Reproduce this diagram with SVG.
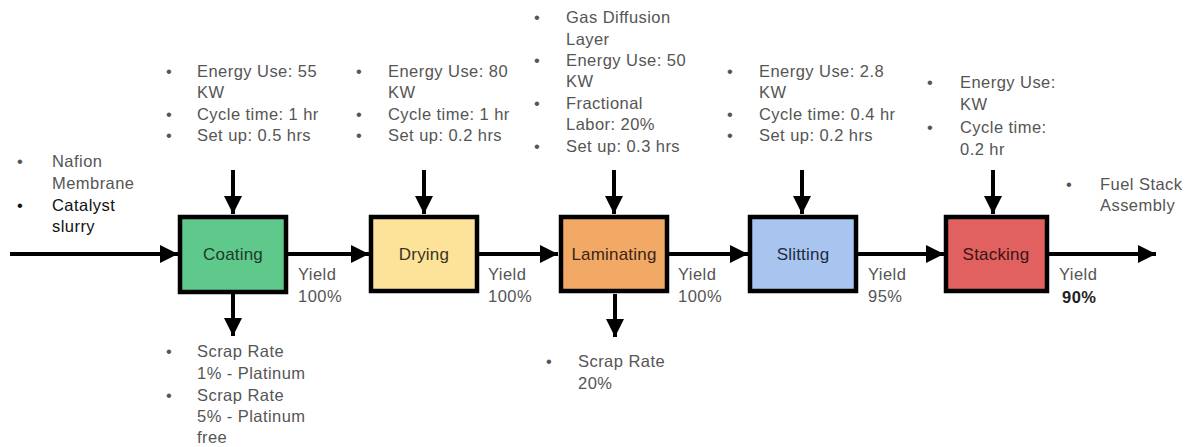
<svg xmlns="http://www.w3.org/2000/svg" width="1189" height="447" viewBox="0 0 1189 447">
<defs>
<marker id="ah" viewBox="0 0 10 10" refX="10" refY="5" markerWidth="4.6" markerHeight="4.6" markerUnits="strokeWidth" orient="auto">
<path d="M0,0 L10,5 L0,10 z" fill="#000"/>
</marker>
</defs>
<style>
text{font-family:"Liberation Sans",Arial,sans-serif;font-size:16.5px;letter-spacing:0.45px;fill:#555}
.dk{fill:#111}
.lbl{font-size:17px;letter-spacing:0.2px;fill:#333;text-anchor:middle}
.box{stroke:#000;stroke-width:4.5}
.ar{stroke:#000;stroke-width:4;fill:none;marker-end:url(#ah)}
</style>
<rect width="1189" height="447" fill="#fff"/>
<g id="connectors">
<line class="ar" x1="10" y1="254" x2="178" y2="254"/>
<line class="ar" x1="288" y1="254" x2="369" y2="254"/>
<line class="ar" x1="479" y1="254" x2="558" y2="254"/>
<line class="ar" x1="669" y1="254" x2="748" y2="254"/>
<line class="ar" x1="857" y1="254" x2="944" y2="254"/>
<line class="ar" x1="1049" y1="254" x2="1156" y2="254"/>
<line class="ar" x1="233" y1="170" x2="233" y2="214"/>
<line class="ar" x1="424" y1="170" x2="424" y2="214"/>
<line class="ar" x1="614" y1="170" x2="614" y2="214"/>
<line class="ar" x1="802" y1="170" x2="802" y2="214"/>
<line class="ar" x1="993" y1="170" x2="993" y2="214"/>
<line class="ar" x1="233" y1="294" x2="233" y2="336"/>
<line class="ar" x1="615" y1="294" x2="615" y2="337"/>
</g>
<g id="coating"><rect class="box" x="180" y="217" width="106" height="75" fill="#5fc98b"/><text class="lbl" x="233" y="260" style="fill:#1f3a2a">Coating</text></g>
<g id="drying"><rect class="box" x="371" y="217" width="106" height="74" fill="#fde39a"/><text class="lbl" x="424" y="260" style="fill:#3b3320">Drying</text></g>
<g id="laminating"><rect class="box" x="561" y="217" width="106" height="74" fill="#f2a965"/><text class="lbl" x="614" y="260" style="fill:#3a2516">Laminating</text></g>
<g id="slitting"><rect class="box" x="750" y="217" width="106" height="74" fill="#a8c5f0"/><text class="lbl" x="803" y="260" style="fill:#1f2a40">Slitting</text></g>
<g id="stacking"><rect class="box" x="946" y="217" width="101" height="74" fill="#e0615f"/><text class="lbl" x="996" y="260" style="fill:#3a1414">Stacking</text></g>
<g id="input-notes">
<text x="17" y="167">•</text><text x="52" y="167">Nafion</text>
<text x="52" y="189">Membrane</text>
<text x="17" y="211" class="dk">•</text><text x="52" y="211" class="dk">Catalyst</text>
<text x="52" y="232" class="dk">slurry</text>
</g>
<g id="coating-notes">
<text x="166" y="77">•</text><text x="197" y="77">Energy Use: 55</text>
<text x="197" y="98">KW</text>
<text x="166" y="120">•</text><text x="197" y="120">Cycle time: 1 hr</text>
<text x="166" y="141">•</text><text x="197" y="141">Set up: 0.5 hrs</text>
</g>
<g id="drying-notes">
<text x="356" y="77">•</text><text x="388" y="77">Energy Use: 80</text>
<text x="388" y="98">KW</text>
<text x="356" y="120">•</text><text x="388" y="120">Cycle time: 1 hr</text>
<text x="356" y="141">•</text><text x="388" y="141">Set up: 0.2 hrs</text>
</g>
<g id="laminating-notes">
<text x="534" y="23">•</text><text x="566" y="23">Gas Diffusion</text>
<text x="566" y="45">Layer</text>
<text x="534" y="66">•</text><text x="566" y="66">Energy Use: 50</text>
<text x="566" y="87">KW</text>
<text x="534" y="109">•</text><text x="566" y="109">Fractional</text>
<text x="566" y="130">Labor: 20%</text>
<text x="534" y="152">•</text><text x="566" y="152">Set up: 0.3 hrs</text>
</g>
<g id="slitting-notes">
<text x="727" y="77">•</text><text x="759" y="77">Energy Use: 2.8</text>
<text x="759" y="98">KW</text>
<text x="727" y="120">•</text><text x="759" y="120">Cycle time: 0.4 hr</text>
<text x="727" y="141">•</text><text x="759" y="141">Set up: 0.2 hrs</text>
</g>
<g id="stacking-notes">
<text x="927" y="88">•</text><text x="960" y="88">Energy Use:</text>
<text x="960" y="110">KW</text>
<text x="927" y="133">•</text><text x="960" y="133">Cycle time:</text>
<text x="960" y="155">0.2 hr</text>
</g>
<g id="output-notes">
<text x="1066" y="190">•</text><text x="1100" y="190">Fuel Stack</text>
<text x="1100" y="211">Assembly</text>
</g>
<g id="yields">
<text x="298" y="280">Yield</text><text x="298" y="302">100%</text>
<text x="488" y="280">Yield</text><text x="488" y="302">100%</text>
<text x="678" y="280">Yield</text><text x="678" y="302">100%</text>
<text x="868" y="280">Yield</text><text x="868" y="302">95%</text>
<text x="1059" y="280">Yield</text><text x="1062" y="303" style="font-weight:bold;fill:#222">90%</text>
</g>
<g id="coating-scrap">
<text x="166" y="357">•</text><text x="197" y="357">Scrap Rate</text>
<text x="197" y="379">1% - Platinum</text>
<text x="166" y="401">•</text><text x="197" y="401">Scrap Rate</text>
<text x="197" y="422">5% - Platinum</text>
<text x="197" y="443">free</text>
</g>
<g id="laminating-scrap">
<text x="546" y="367">•</text><text x="578" y="367">Scrap Rate</text>
<text x="578" y="389">20%</text>
</g>
</svg>
